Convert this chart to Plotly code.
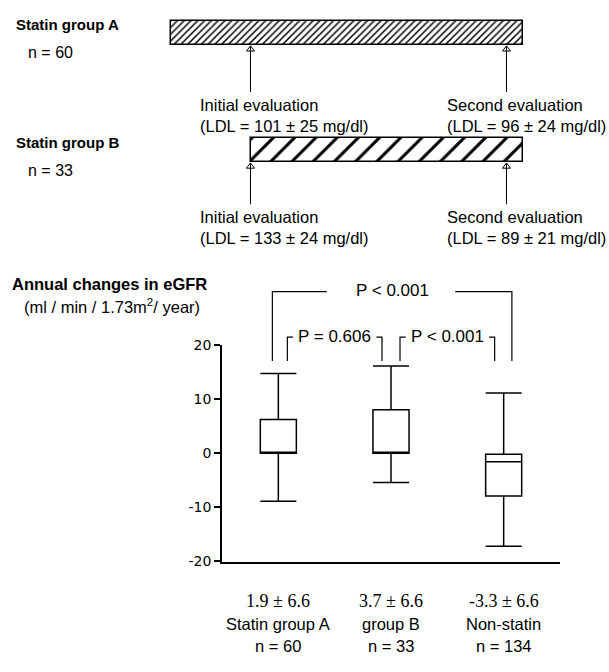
import plotly.graph_objects as go

# ---------------- study timeline (LDL evaluations) ----------------
timeline_groups = ["Statin group A", "Statin group B"]
timeline_n = [60, 33]
# time measured in units of the interval between the two evaluations
statin_start = [-0.31, 0.0]
followup_end = [1.066, 1.066]
eval_times = [0.0, 1.0]
eval_names = ["Initial evaluation", "Second evaluation"]
ldl_mean = [[101, 96], [133, 89]]
ldl_sd = [[25, 24], [24, 21]]

# ---------------- annual change in eGFR ----------------
box_groups = ["Statin group A", "group B", "Non-statin"]
box_n = [60, 33, 134]
egfr_mean = [1.9, 3.7, -3.3]
egfr_sd = [6.6, 6.6, 6.6]
upper_fence = [14.7, 16.1, 11.1]
q3 = [6.2, 8.0, -0.2]
median = [0.0, 0.0, -1.6]
q1 = [0.0, 0.0, -7.9]
lower_fence = [-8.9, -5.4, -17.2]
y_ticks = [-20, -10, 0, 10, 20]
comparisons = [(1, 2, "P = 0.606"), (2, 3, "P < 0.001"), (1, 3, "P < 0.001")]

SANS = "Liberation Sans, Arial, sans-serif"
SERIF = "Liberation Serif, Times New Roman, serif"
W, H = 609, 672
ROW_PX = 120.0  # pixels per unit on the timeline row axis


def py(px):
    """paper y from a distance in pixels measured from the top"""
    return (H - px) / H


fig = go.Figure()

# ---- timeline bars with hatching ----
rows = [1, 0]
bar_h = 0.21
hatch = [dict(size=4.8, solidity=0.32), dict(size=15, solidity=0.2)]
arrow_px = [48, 43]
for i, row in enumerate(rows):
    fig.add_trace(go.Bar(
        orientation="h", y=[row], base=[statin_start[i]],
        x=[followup_end[i] - statin_start[i]], width=bar_h,
        marker=dict(color="white", line=dict(color="black", width=1.5),
                    pattern=dict(shape="/", fgcolor="black", bgcolor="white",
                                 fillmode="replace", **hatch[i])),
        xaxis="x3", yaxis="y3", hoverinfo="skip", showlegend=False))

annotations = []
for i, row in enumerate(rows):
    annotations.append(dict(
        text=f"<b>{timeline_groups[i]}</b>", x=14 / W, xref="paper", xanchor="left",
        y=row, yref="y3", yshift=8, showarrow=False,
        font=dict(family=SANS, size=15, color="black")))
    annotations.append(dict(
        text=f"n = {timeline_n[i]}", x=26 / W, xref="paper", xanchor="left",
        y=row, yref="y3", yshift=-20, showarrow=False,
        font=dict(family=SANS, size=16, color="black")))
    bottom = row - bar_h / 2
    arrow_len = arrow_px[i] / ROW_PX
    for j, t in enumerate(eval_times):
        # arrow pointing up at the evaluation time
        fig.add_trace(go.Scatter(
            x=[t, t], y=[bottom - arrow_len, bottom - 0.01], mode="lines",
            line=dict(color="black", width=1), xaxis="x3", yaxis="y3",
            hoverinfo="skip", showlegend=False))
        fig.add_trace(go.Scatter(
            x=[t], y=[bottom - 0.035], mode="markers",
            marker=dict(symbol="triangle-up-open", size=7, color="black",
                        line=dict(width=1, color="black")),
            xaxis="x3", yaxis="y3", hoverinfo="skip", showlegend=False))
        annotations.append(dict(
            text=f"{eval_names[j]}<br>(LDL = {ldl_mean[i][j]} ± {ldl_sd[i][j]} mg/dl)",
            x=t, y=bottom, xref="x3", yref="y3", xanchor="left", yanchor="top",
            xshift=-53 if j == 0 else -62, yshift=-(arrow_px[i] + 1), align="left",
            showarrow=False, font=dict(family=SANS, size=16.5, color="black")))

# ---- box plots ----
for i in range(3):
    fig.add_trace(go.Box(
        x=[i + 1], q1=[q1[i]], median=[median[i]], q3=[q3[i]],
        lowerfence=[lower_fence[i]], upperfence=[upper_fence[i]],
        orientation="v", width=0.32, whiskerwidth=1, fillcolor="white",
        boxpoints=False, line=dict(color="black", width=1.5),
        xaxis="x", yaxis="y", hoverinfo="skip", showlegend=False))

# ---- significance brackets ----
leg_bottom = 17.0
for a, b, label in comparisons:
    if b - a == 1:
        top = 21.4
        xl, xr = a + 0.08, b - 0.08
        stub = 0.05
        xs = [xl, xl, xl + stub, None, xr - stub, xr, xr]
        ys = [leg_bottom, top, top, None, top, top, leg_bottom]
    else:
        top = 29.8
        xl, xr = a - 0.053, b + 0.073
        c, gap = (a + b) / 2, 0.57
        xs = [xl, xl, c - gap, None, c + gap, xr, xr]
        ys = [leg_bottom, top, top, None, top, top, leg_bottom]
    fig.add_trace(go.Scatter(
        x=xs, y=ys, mode="lines", line=dict(color="black", width=1.2),
        xaxis="x", yaxis="y2", hoverinfo="skip", showlegend=False))
    annotations.append(dict(
        text=label, x=(a + b) / 2 + (0.0 if b - a == 1 else 0.01), y=top,
        xref="x", yref="y2", showarrow=False, yshift=1,
        font=dict(family=SANS, size=17, color="black")))

# ---- eGFR titles ----
annotations.append(dict(
    text="<b>Annual changes in eGFR</b>", x=10 / W, y=py(283), xref="paper",
    yref="paper", xanchor="left", showarrow=False,
    font=dict(family=SANS, size=16.5, color="black")))
annotations.append(dict(
    text="(ml / min / 1.73m<sup>2</sup>/ year)", x=22 / W, y=py(305), xref="paper",
    yref="paper", xanchor="left", showarrow=False,
    font=dict(family=SANS, size=16.5, color="black")))

# ---- group labels below the axis ----
for i in range(3):
    annotations.append(dict(
        text=f"{egfr_mean[i]} ± {egfr_sd[i]}", x=i + 1, y=py(620), xref="x",
        yref="paper", showarrow=False,
        font=dict(family=SERIF, size=18, color="black")))
    annotations.append(dict(
        text=box_groups[i], x=i + 1, y=py(642), xref="x", yref="paper",
        showarrow=False, font=dict(family=SANS, size=16.5, color="black")))
    annotations.append(dict(
        text=f"n = {box_n[i]}", x=i + 1, y=py(665), xref="x", yref="paper",
        showarrow=False, font=dict(family=SANS, size=16.5, color="black")))

fig.update_layout(
    width=W, height=H, margin=dict(l=0, r=0, t=0, b=0),
    # transparent plot areas so the overlapping subplots do not hide each other
    paper_bgcolor="white", plot_bgcolor="rgba(0,0,0,0)", showlegend=False,
    bargap=0,
    xaxis=dict(domain=[222 / W, 560 / W], range=[0.5, 3.5], anchor="y",
               showline=True, linecolor="black", linewidth=1.5,
               showgrid=False, zeroline=False, showticklabels=False, ticks=""),
    yaxis=dict(domain=[py(567), py(345)], range=[-20, 20], anchor="x",
               showline=True, linecolor="black", linewidth=1.5,
               showgrid=False, zeroline=False, ticks="outside", ticklen=6,
               tickwidth=1.5, tickcolor="black", tickvals=y_ticks,
               ticktext=[str(v) for v in y_ticks],
               tickfont=dict(family="DejaVu Sans", size=14, color="black")),
    yaxis2=dict(domain=[py(567), py(278.4)], range=[-20, 32], anchor="x",
                visible=False),
    xaxis3=dict(domain=[0, 1], range=[-250.5 / 256, (W - 250.5) / 256],
                anchor="y3", visible=False),
    yaxis3=dict(domain=[0.6, 1.0],
                range=[-(268.8 - 145.5) / ROW_PX, 1 + 25.5 / ROW_PX],
                anchor="x3", visible=False),
    annotations=annotations,
)

fig.write_html("out.html")
